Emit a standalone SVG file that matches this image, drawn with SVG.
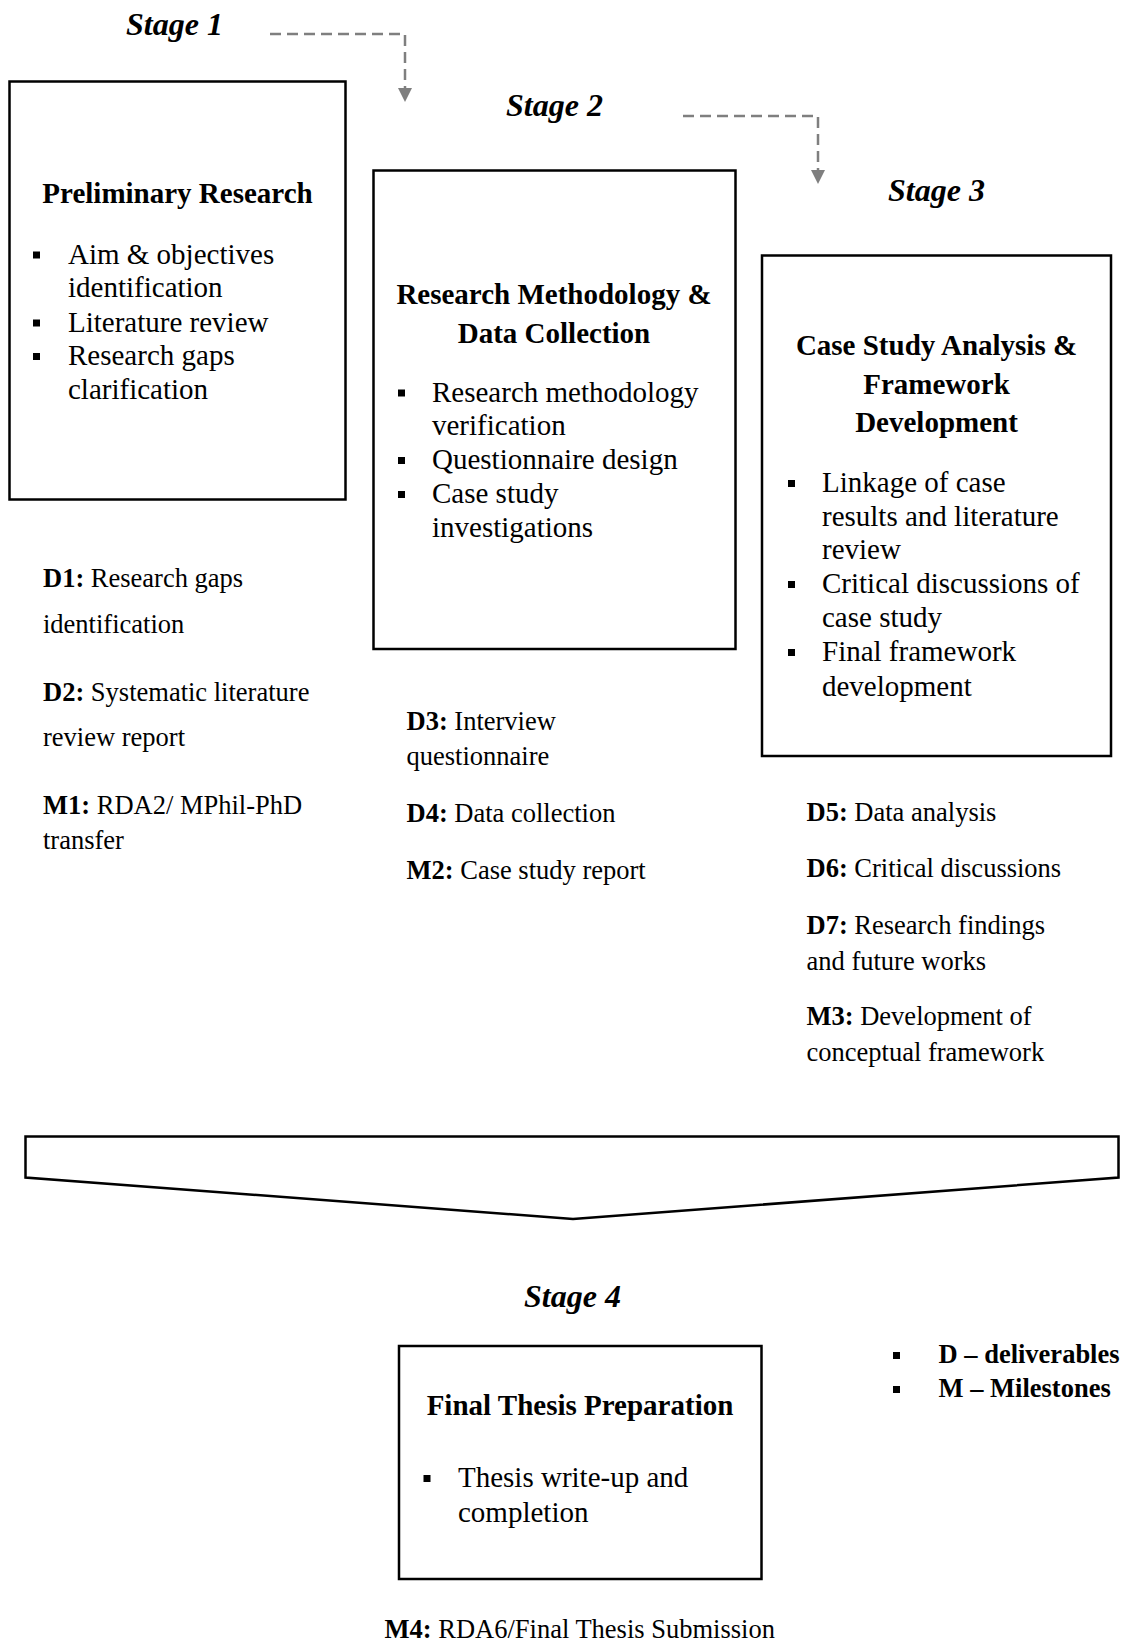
<svg xmlns="http://www.w3.org/2000/svg" width="1121" height="1642" viewBox="0 0 1121 1642">
  <style>
    text { font-family: "Liberation Serif", "Times New Roman", serif; fill: #000; }
    .stage { font-size: 32px; font-weight: bold; font-style: italic; }
    .title { font-size: 29px; font-weight: bold; text-anchor: middle; }
    .item { font-size: 29px; }
    .note { font-size: 26.5px; }
    .legend { font-size: 26.5px; font-weight: bold; }
    .b { font-weight: bold; }
    .box { fill: #fff; stroke: #000; stroke-width: 2.5; }
    .dash { fill: none; stroke: #7f7f7f; stroke-width: 2.5; stroke-dasharray: 11 6; }
    .chev { fill: #fff; stroke: #000; stroke-width: 2.5; stroke-linejoin: miter; }
    .sq { fill: #000; }
  </style>
  <defs>
    <marker id="arrowhead" markerWidth="14" markerHeight="14" refX="0" refY="7" orient="auto" markerUnits="userSpaceOnUse">
      <path d="M0,0 L14,7 L0,14 z" fill="#7f7f7f"/>
    </marker>
  </defs>

  <!-- connectors -->
  <g id="connectors">
    <path class="dash" d="M270,34 H405 V88" marker-end="url(#arrowhead)"/>
    <path class="dash" d="M683,116 H818 V170" marker-end="url(#arrowhead)"/>
    <polygon class="chev" points="25.5,1136.5 1118.5,1136.5 1118.5,1177.5 573,1219 25.5,1177.5"/>
  </g>

  <!-- stage 1 -->
  <g id="stage1">
    <text class="stage" x="126" y="35">Stage 1</text>
    <rect class="box" x="9.5" y="81.5" width="336" height="418"/>
    <text class="title" x="177.5" y="203">Preliminary Research</text>
    <rect class="sq" x="33" y="251.5" width="7" height="7"/>
    <text class="item" x="68" y="263.5">Aim &amp; objectives</text>
    <text class="item" x="68" y="297">identification</text>
    <rect class="sq" x="33" y="319.5" width="7" height="7"/>
    <text class="item" x="68" y="331.5">Literature review</text>
    <rect class="sq" x="33" y="353" width="7" height="7"/>
    <text class="item" x="68" y="365">Research gaps</text>
    <text class="item" x="68" y="398.5">clarification</text>
  </g>
  <g id="stage1-outputs">
    <text class="note" x="43" y="587"><tspan class="b">D1:</tspan> Research gaps</text>
    <text class="note" x="43" y="633">identification</text>
    <text class="note" x="43" y="700.5"><tspan class="b">D2:</tspan> Systematic literature</text>
    <text class="note" x="43" y="746">review report</text>
    <text class="note" x="43" y="813.5"><tspan class="b">M1:</tspan> RDA2/ MPhil-PhD</text>
    <text class="note" x="43" y="848.5">transfer</text>
  </g>

  <!-- stage 2 -->
  <g id="stage2">
    <text class="stage" x="506" y="115.5">Stage 2</text>
    <rect class="box" x="373.5" y="170.5" width="362" height="478.5"/>
    <text class="title" x="554" y="303.5">Research Methodology &amp;</text>
    <text class="title" x="554" y="342.5">Data Collection</text>
    <rect class="sq" x="398" y="389.5" width="7" height="7"/>
    <text class="item" x="432" y="401.5">Research methodology</text>
    <text class="item" x="432" y="435">verification</text>
    <rect class="sq" x="398" y="457" width="7" height="7"/>
    <text class="item" x="432" y="469">Questionnaire design</text>
    <rect class="sq" x="398" y="491" width="7" height="7"/>
    <text class="item" x="432" y="503">Case study</text>
    <text class="item" x="432" y="536.5">investigations</text>
  </g>
  <g id="stage2-outputs">
    <text class="note" x="406.5" y="730"><tspan class="b">D3:</tspan> Interview</text>
    <text class="note" x="406.5" y="765">questionnaire</text>
    <text class="note" x="406.5" y="821.5"><tspan class="b">D4:</tspan> Data collection</text>
    <text class="note" x="406.5" y="879"><tspan class="b">M2:</tspan> Case study report</text>
  </g>

  <!-- stage 3 -->
  <g id="stage3">
    <text class="stage" x="888" y="201">Stage 3</text>
    <rect class="box" x="762" y="255.5" width="349" height="500.5"/>
    <text class="title" x="936.5" y="355">Case Study Analysis &amp;</text>
    <text class="title" x="936.5" y="393.5">Framework</text>
    <text class="title" x="936.5" y="432">Development</text>
    <rect class="sq" x="788" y="480" width="7" height="7"/>
    <text class="item" x="822" y="492">Linkage of case</text>
    <text class="item" x="822" y="525.5">results and literature</text>
    <text class="item" x="822" y="559">review</text>
    <rect class="sq" x="788" y="581" width="7" height="7"/>
    <text class="item" x="822" y="593">Critical discussions of</text>
    <text class="item" x="822" y="626.5">case study</text>
    <rect class="sq" x="788" y="649" width="7" height="7"/>
    <text class="item" x="822" y="661">Final framework</text>
    <text class="item" x="822" y="695.5">development</text>
  </g>
  <g id="stage3-outputs">
    <text class="note" x="806.5" y="821"><tspan class="b">D5:</tspan> Data analysis</text>
    <text class="note" x="806.5" y="877"><tspan class="b">D6:</tspan> Critical discussions</text>
    <text class="note" x="806.5" y="933.5"><tspan class="b">D7:</tspan> Research findings</text>
    <text class="note" x="806.5" y="969.5">and future works</text>
    <text class="note" x="806.5" y="1025"><tspan class="b">M3:</tspan> Development of</text>
    <text class="note" x="806.5" y="1061">conceptual framework</text>
  </g>

  <!-- stage 4 -->
  <g id="stage4">
    <text class="stage" x="524" y="1307">Stage 4</text>
    <rect class="box" x="399" y="1346" width="362.5" height="233"/>
    <text class="title" x="580" y="1415">Final Thesis Preparation</text>
    <rect class="sq" x="423.5" y="1475" width="7" height="7"/>
    <text class="item" x="458" y="1487">Thesis write-up and</text>
    <text class="item" x="458" y="1521.5">completion</text>
  </g>
  <g id="stage4-outputs">
    <text class="note" x="384.5" y="1637.5"><tspan class="b">M4:</tspan> RDA6/Final Thesis Submission</text>
  </g>

  <!-- key -->
  <g id="legend">
    <rect class="sq" x="893" y="1352" width="7" height="7"/>
    <text class="legend" x="938.5" y="1363">D – deliverables</text>
    <rect class="sq" x="893" y="1386" width="7" height="7"/>
    <text class="legend" x="938.5" y="1397">M – Milestones</text>
  </g>
</svg>
